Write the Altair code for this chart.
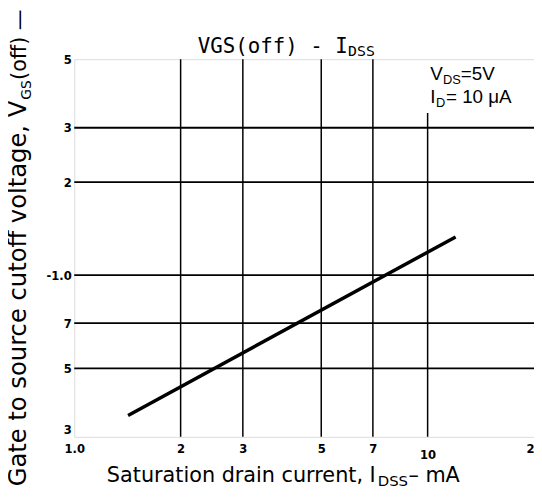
import altair as alt
import pandas as pd

# data (log-log plot)
idss_mA = [1.42, 12.0]
vgs_off = [0.352, 1.33]

x_ticks = [1, 2, 3, 5, 7, 10, 20]
y_ticks = [0.3, 0.5, 0.7, 1, 2, 3, 5]

vgrid_x = [2, 3, 5, 7, 10]
vgrid_top = [5, 5, 5, 5, 3.35]
hgrid_y = [0.5, 0.7, 1, 2, 3]

xs = alt.Scale(type="log", domain=[1, 20], nice=False)
ys = alt.Scale(type="log", domain=[0.3, 5], nice=False)

tick_font = "Liberation Sans Narrow, DejaVu Sans Condensed, sans-serif"

xaxis = alt.Axis(
    values=x_ticks, title=None, grid=False, domain=False, ticks=False,
    labelExpr="datum.value == 1 ? '1.0' : toString(datum.value)",
    labelFont=tick_font, labelFontWeight="bold", labelFontSize=13, labelColor="black",
    labelPadding={"condition": {"test": "datum.value == 10", "value": 12}, "value": 6},
    labelFlush=False, labelOverlap=False,
)
yaxis = alt.Axis(
    values=y_ticks, title=None, grid=False, domain=False, ticks=False,
    labelExpr="datum.value == 1 ? '-1.0' : toString(datum.value < 1 ? round(datum.value * 10) : datum.value)",
    labelFont=tick_font, labelFontWeight="bold", labelFontSize=13, labelColor="black",
    labelBaseline={"condition": {"test": "datum.value == 0.3", "value": "bottom"}, "value": "middle"},
    labelPadding=3, labelFlush=False, labelOverlap=False,
)

line_df = pd.DataFrame({"x": idss_mA, "y": vgs_off})
vg_df = pd.DataFrame({"x": vgrid_x, "y1": [0.3] * len(vgrid_x), "y2": vgrid_top})
hg_df = pd.DataFrame({"y": hgrid_y, "x1": [1] * len(hgrid_y), "x2": [20] * len(hgrid_y)})

vgrid = alt.Chart(vg_df).mark_rule(color="black", strokeWidth=1.5).encode(
    x=alt.X("x:Q", scale=xs, axis=xaxis),
    y=alt.Y("y1:Q", scale=ys, axis=yaxis),
    y2="y2:Q",
)
hgrid = alt.Chart(hg_df).mark_rule(color="black", strokeWidth=1.8).encode(
    y=alt.Y("y:Q", scale=ys, axis=yaxis),
    x=alt.X("x1:Q", scale=xs, axis=xaxis),
    x2="x2:Q",
)
line = alt.Chart(line_df).mark_line(color="black", strokeWidth=3.5).encode(
    x=alt.X("x:Q", scale=xs, axis=xaxis),
    y=alt.Y("y:Q", scale=ys, axis=yaxis),
)

one = pd.DataFrame({"a": [0]})


def txt(s, x, y, size, font, align="left", angle=0, weight="normal", dy=0, baseline="alphabetic"):
    return alt.Chart(one).mark_text(
        text=s, align=align, baseline=baseline, fontSize=size, font=font,
        angle=angle, fontWeight=weight, dy=dy, color="black",
    ).encode(x=alt.value(x), y=alt.value(y))


mono = "DejaVu Sans Mono"
sans = "DejaVu Sans"
annot = "Liberation Sans"

# origin of plot area is at page (75, 57)
texts = [
    # title
    txt("VGS(off) - I", 125, -6, 21, mono),
    txt("DSS", 277, -6, 15, mono, dy=3),
    # annotation
    txt("V", 360, 21, 19, annot),
    txt("DS", 373, 21, 13, annot, dy=4),
    txt("=5V", 391, 21, 19, annot),
    txt("I", 360, 44, 19, annot),
    txt("D", 366, 44, 13, annot, dy=4),
    txt("= 10 \u03bcA", 376, 44, 19, annot),
    # x axis title
    txt("Saturation drain current, I", 33, 428, 21, sans),
    txt("DSS", 307, 428, 15, sans, dy=4),
    txt(" \u2013 mA", 338, 428, 21, sans),
    # y axis title (rotated)
    txt("Gate to source cutoff voltage, V", -49, 42, 24.5, sans, align="right", angle=270),
    txt("GS", -49, 41, 14, sans, align="left", angle=270, dy=5),
    txt("(off) \u2014 V", -49, 21, 21, sans, align="left", angle=270),
]

chart = alt.layer(hgrid, vgrid, line, *texts).properties(
    width=465, height=382,
    padding={"left": 67, "top": 49, "right": 0, "bottom": 52},
    autosize="none",
).configure_view(stroke="black", strokeWidth=2).configure(background="white")

chart.save("out.html", embed_options={"renderer": "svg", "actions": False})
